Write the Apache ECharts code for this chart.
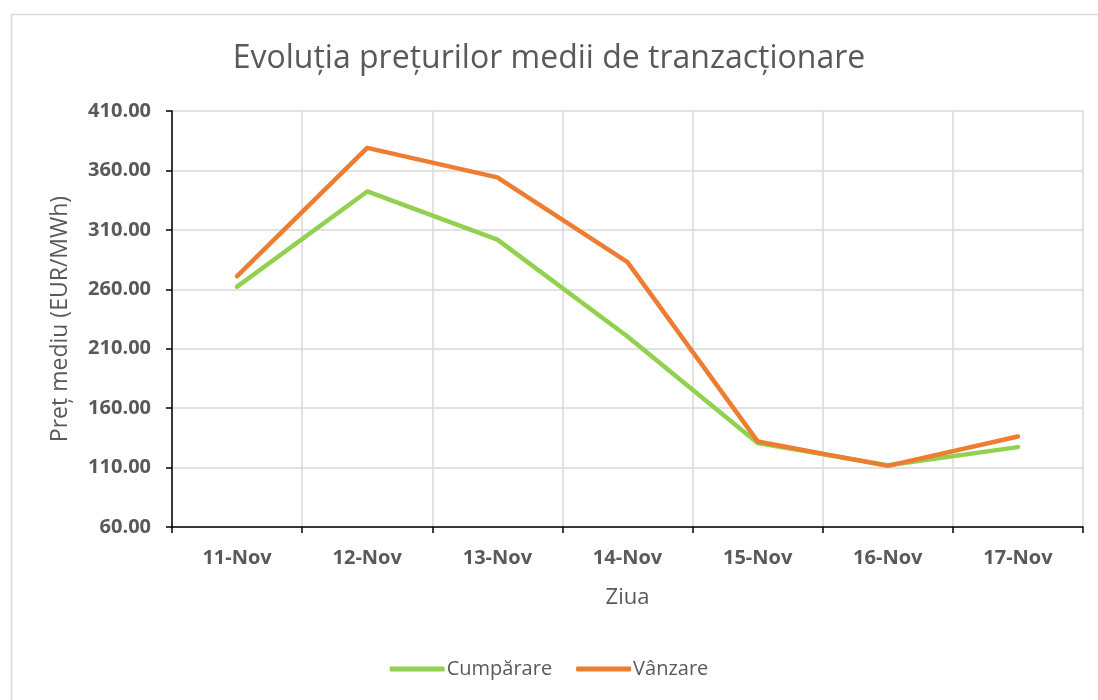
<!DOCTYPE html>
<html>
<head>
<meta charset="utf-8">
<script src="https://cdn.jsdelivr.net/npm/echarts@6/dist/echarts.min.js"></script>
<style>
html,body{margin:0;padding:0;background:#fff;}
#chart{width:1098px;height:700px;}
</style>
</head>
<body>
<div id="chart"></div>
<script>
const categories = ['11-Nov','12-Nov','13-Nov','14-Nov','15-Nov','16-Nov','17-Nov'];
const cumparare = [262.2, 342.3, 301.8, 220.3, 130.6, 112.0, 127.2];
const vanzare = [271.0, 379.0, 354.2, 282.8, 132.0, 111.4, 136.2];
const seriesNames = ['Cumpărare', 'Vânzare'];
const titleText = 'Evoluția prețurilor medii de tranzacționare';
const yAxisName = 'Preț mediu (EUR/MWh)';
const xAxisName = 'Ziua';

const FONT = '"Open Sans", "Noto Sans", sans-serif';
const chart = echarts.init(document.getElementById('chart'));
chart.setOption({
  animation: false,
  backgroundColor: '#fff',
  graphic: [{
    type: 'rect', left: 9, top: 12, silent: true,
    shape: { width: 1200, height: 800 },
    style: { fill: 'none', stroke: '#d9d9d9', lineWidth: 1.5 }
  }],
  title: {
    text: titleText, left: 'center', top: 38,
    textStyle: { fontFamily: FONT, fontSize: 32, fontWeight: 'normal', color: '#595959' }
  },
  legend: {
    bottom: 16, left: 'center',
    itemWidth: 55, itemHeight: 5, itemGap: 24,
    icon: 'roundRect',
    textStyle: { fontFamily: FONT, fontSize: 20, color: '#595959', padding: [0,0,0,-3] },
    data: seriesNames
  },
  grid: { left: 172, right: 15, top: 111, bottom: 173, containLabel: false },
  xAxis: {
    type: 'category', data: categories, boundaryGap: true,
    name: xAxisName, nameLocation: 'middle', nameGap: 60,
    nameTextStyle: { fontFamily: FONT, fontSize: 22, color: '#595959' },
    axisLine: { lineStyle: { color: '#000', width: 1.5 } },
    axisTick: { show: true, length: 6, lineStyle: { color: '#000', width: 1.5 } },
    axisLabel: { fontFamily: FONT, fontSize: 20, fontWeight: 'bold', color: '#595959', margin: 21 },
    splitLine: { show: true, lineStyle: { color: '#d9d9d9', width: 1.5 } }
  },
  yAxis: {
    type: 'value', min: 60, max: 410, interval: 50,
    name: yAxisName, nameLocation: 'middle', nameGap: 100, nameRotate: 90,
    nameTextStyle: { fontFamily: FONT, fontSize: 23, color: '#595959' },
    axisLine: { show: true, lineStyle: { color: '#000', width: 1.5 } },
    axisTick: { show: true, length: 6, lineStyle: { color: '#000', width: 1.5 } },
    axisLabel: { fontFamily: FONT, fontSize: 20, fontWeight: 'bold', color: '#595959', margin: 21,
      formatter: v => v.toFixed(2) },
    splitLine: { show: true, lineStyle: { color: '#d9d9d9', width: 1.5 } }
  },
  series: [
    { name: seriesNames[0], type: 'line', data: cumparare, symbol: 'none',
      lineStyle: { color: '#92d050', width: 4.5, cap: 'round', join: 'round' }, itemStyle: { color: '#92d050' } },
    { name: seriesNames[1], type: 'line', data: vanzare, symbol: 'none',
      lineStyle: { color: '#ed7d31', width: 4.5, cap: 'round', join: 'round' }, itemStyle: { color: '#ed7d31' } }
  ]
});
</script>
</body>
</html>
